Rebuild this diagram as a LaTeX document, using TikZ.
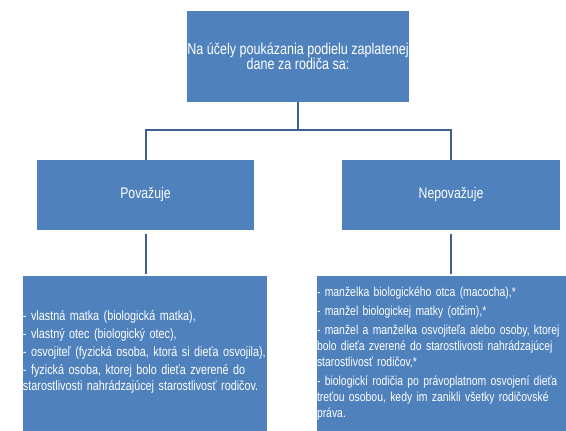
\documentclass[tikz,border=0pt]{standalone}
\usepackage{fontspec}
\setmainfont{Liberation Sans}[FakeStretch=0.8]
\definecolor{boxblue}{HTML}{4F81BD}
\definecolor{linkblue}{HTML}{3C5F8E}
\begin{document}
\begin{tikzpicture}[x=1pt,y=-1pt,
  box/.style={draw=none,fill=boxblue,text=white,inner sep=0pt,outer sep=0pt},
  conn/.style={draw=linkblue,line width=2pt}]
\useasboundingbox (0,0) rectangle (566,431);
\clip (0,0) rectangle (566,431);
\node[box,minimum width=218pt,minimum height=91pt,align=center,
  font=\fontsize{15.7}{15.5}\selectfont] (top) at (298,56.5)
  {Na účely poukázania podielu zaplatenej\\dane za rodiča sa:};
\node[box,minimum width=217pt,minimum height=70pt,
  font=\fontsize{15.3}{16}\selectfont] (lmid) at (145.5,195) {Považuje};
\node[box,minimum width=218pt,minimum height=70pt,
  font=\fontsize{15.3}{16}\selectfont] (rmid) at (451,195) {Nepovažuje};
\node[box,minimum width=244pt,minimum height=155pt,text width=244pt,align=left,
  font=\fontsize{13.5}{16}\selectfont] (lbot) at (145,353.5)
  {- vlastná matka (biologická matka),\\[2pt]
   - vlastný otec (biologický otec),\\[2pt]
   - osvojiteľ (fyzická osoba, ktorá si dieťa osvojila),\\[2pt]
   - fyzická osoba, ktorej bolo dieťa zverené do\\
   starostlivosti nahrádzajúcej starostlivosť rodičov.\\[-10pt]\mbox{}};
\node[box,minimum width=268pt,minimum height=155pt,text width=268pt,align=left,
  font=\fontsize{13}{16}\selectfont] (rbot) at (451,353.5)
  {- manželka biologického otca (macocha),*\\[3pt]
   - manžel biologickej matky (otčim),*\\[3pt]
   - manžel a manželka osvojiteľa alebo osoby, ktorej\\
   bolo dieťa zverené do starostlivosti nahrádzajúcej\\
   starostlivosť rodičov,*\\[3pt]
   - biologickí rodičia po právoplatnom osvojení dieťa\\
   treťou osobou, kedy im zanikli všetky rodičovské\\
   práva.};
\coordinate (j) at (298,130);
\draw[conn] (top.south) -- (j);
\draw[conn] (j) -| (lmid.north);
\draw[conn] (j) -| (rmid.north);
\draw[conn,shorten <=4pt,shorten >=2pt] (lmid.south) -- (lmid.south |- lbot.north);
\draw[conn,shorten <=4pt,shorten >=2pt] (rmid.south) -- (rmid.south |- rbot.north);
\end{tikzpicture}
\end{document}
